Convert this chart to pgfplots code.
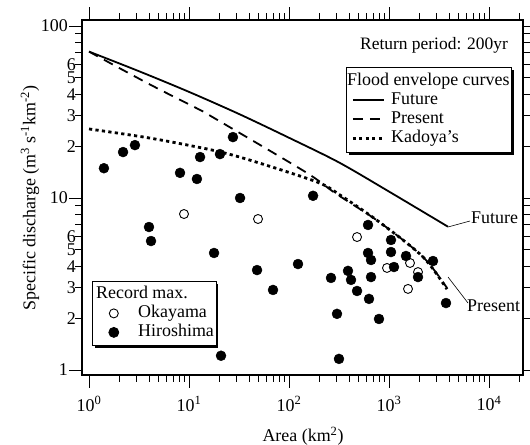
\documentclass[border=0pt]{standalone}
\usepackage{fontspec}
\setmainfont{Liberation Serif}
\usepackage{pgfplots}
\pgfplotsset{compat=1.18}
\usetikzlibrary{shadows}
\newcommand\ff{\fontsize{18}{20}\selectfont}
\newcommand\fr{\fontsize{17.5}{20}\selectfont}
\makeatletter
\tikzset{nopre/.code={\let\tikz@preactions\pgfutil@empty}}
\makeatother

\begin{document}
\begin{tikzpicture}
\begin{axis}[
  at={(82bp,70bp)}, anchor=south west,
  scale only axis, width=441bp, height=355bp,
  xmode=log, ymode=log,
  xmin=0.851, xmax=21878, ymin=0.935, ymax=108.4,
  tick align=outside,
  major tick length=13bp, minor tick length=7bp,
  xtick={1,10,100,1000,10000},
  xticklabels={10\textsuperscript{0},10\textsuperscript{1},10\textsuperscript{2},10\textsuperscript{3},10\textsuperscript{4}},
  minor xtick={2,3,4,5,6,7,8,9,20,30,40,50,60,70,80,90,200,300,400,500,600,700,800,900,2000,3000,4000,5000,6000,7000,8000,9000,20000},
  xticklabel pos=bottom,
  xticklabel style={yshift=-5bp},
  ytick={1,10,100}, yticklabels={1,10,100},
  minor ytick={2,3,4,5,6,7,8,9,20,30,40,50,60,70,80,90},
  yticklabel pos=left,
  yticklabel style={inner xsep=1bp, inner ysep=0bp, text depth=0bp},
  extra y ticks={2,3,4,5,6,20,30,40,50,60},
  extra y tick labels={2,3,4,5,6,2,3,4,5,6},
  extra y tick style={major tick length=7bp, yticklabel style={xshift=2bp}},
  axis line style={line width=1.2bp},
  every tick/.style={black, line width=0.9bp},
  tick label style={font=\ff},
  legend cell align=left,
  legend style={draw=black, line width=0.8bp, fill=white,
      inner xsep=1bp, inner ysep=5bp, row sep=1bp, column sep=5bp,
      nodes={inner sep=1bp, text height=12bp, text depth=4bp, font=\ff},
      drop shadow={shadow xshift=2.5bp, shadow yshift=-2.5bp, opacity=1, fill=black},
      at={(axis description cs:0.5986,0.8676)}, anchor=north west},
  legend image code/.code={\path (0bp,0bp) (35bp,0bp); \draw[#1, nopre] (4bp,0bp) -- (35bp,0bp);},
]
\addlegendimage{empty legend}
\addlegendentry{\hspace{-44bp}Flood envelope curves}
\addplot[black, line width=1.8bp, smooth] coordinates {
(1,71.0) (3.16,54.6) (10,41.4) (31.6,30.8) (100,22.4) (316,16.1) (1000,10.9) (3890,6.81)};
\addlegendentry{Future}
\addplot[black, line width=1.8bp, dash pattern=on 10bp off 7bp, smooth] coordinates {
(1,71) (4.07,45.7) (12.9,32.5) (17.8,29.2) (145,14.2) (288,10.7) (813,7.2) (2188,4.54) (3800,3.0)};
\addlegendentry{Present}
\addplot[black, line width=2.8bp, dash pattern=on 3.2bp off 3.3bp, smooth] coordinates {
(1,25.2) (4.07,22.3) (17,19.0) (40.7,16.6) (190,12.4) (324,10.4) (813,7.2) (2188,4.54) (3800,2.95)};
\addlegendentry{Kadoya's}
\end{axis}

\begin{axis}[
  at={(82bp,70bp)}, anchor=south west,
  scale only axis, width=441bp, height=355bp,
  xmode=log, ymode=log,
  xmin=0.851, xmax=21878, ymin=0.935, ymax=108.4,
  hide axis,
  legend cell align=left,
  legend style={draw=black, line width=0.8bp, fill=white,
      inner xsep=1bp, inner ysep=4bp, row sep=1bp, column sep=5bp,
      nodes={inner sep=1bp, text height=12bp, text depth=4bp, font=\ff},
      drop shadow={shadow xshift=2.5bp, shadow yshift=-2.5bp, opacity=1, fill=black},
      at={(axis description cs:0.0227,0.2648)}, anchor=north west},
  legend image code/.code={\path (0bp,0bp) (38bp,0bp); \draw[#1, nopre] plot coordinates {(20bp,0bp)};},
]
\addlegendimage{empty legend}
\addlegendentry{\hspace{-42bp}Record max.}
\addplot[only marks, mark=o, mark size=4.5bp, mark options={black, line width=0.9bp, fill=white}] coordinates {
(8.91,8.07) (49,7.55) (479,5.93) (955,3.92) (1622,4.19) (1549,2.96) (1950,3.71)};
\addlegendentry{Okayama}
\addplot[only marks, mark=*, mark size=5bp, mark options={black, fill=black}] coordinates {
(1.41,14.9) (2.19,18.5) (2.88,20.3) (3.98,6.78) (4.17,5.62) (8.13,14.0) (12.0,12.9) (12.9,17.3)
(20.4,18.0) (27.5,22.6) (32.4,10.0) (17.8,4.79) (47.9,3.81) (20.9,1.21) (69.2,2.92) (174,10.3)
(123,4.13) (263,3.43) (302,2.12) (316,1.16) (389,3.77) (417,3.34) (479,2.88) (617,6.97)
(617,4.79) (661,4.36) (661,3.47) (631,2.59) (794,1.98) (1047,5.70) (1047,4.85) (1122,3.97)
(1479,4.60) (1950,3.47) (2754,4.30) (3715,2.45)};
\addlegendentry{Hiroshima}
\end{axis}

\node[font=\ff, inner sep=0bp] at (303bp,9bp) {Area (km\textsuperscript{2})};
\node[font=\ff, rotate=90, inner sep=0bp] at (30bp,247bp) {Specific discharge (m\textsuperscript{3} s\textsuperscript{-1}km\textsuperscript{-2})};
\node[font=\fr] at (434bp,400bp) {Return period: 200yr};
\draw[line width=0.6bp] (448bp,218bp) -- (470bp,224bp);
\node[font=\ff, anchor=west, inner sep=1bp] at (470bp,227bp) {Future};
\draw[line width=0.6bp] (448bp,168bp) -- (468bp,142bp);
\node[font=\ff, anchor=west, inner sep=1bp] at (466bp,139bp) {Present};
\pgfresetboundingbox
\path[use as bounding box] (0bp,0bp) rectangle (530bp,445bp);
\end{tikzpicture}
\end{document}
